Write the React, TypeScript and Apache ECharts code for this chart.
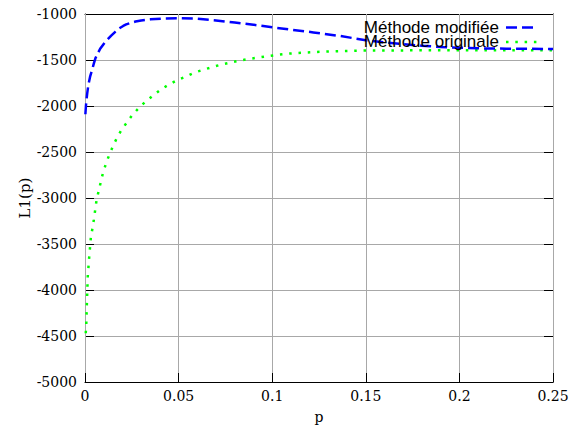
import React, { useEffect, useRef } from "react";
import * as echarts from "echarts";

const xTicks = [0, 0.05, 0.1, 0.15, 0.2, 0.25];
const yTicks = [-5000, -4500, -4000, -3500, -3000, -2500, -2000, -1500, -1000];

const seriesNames = ["Méthode modifiée", "Méthode originale"];

const pModified = [
  0.0002, 0.0005, 0.0008, 0.0012, 0.0016, 0.002, 0.0028, 0.0038, 0.0047, 0.0056,
  0.007, 0.0083, 0.01, 0.0118, 0.014, 0.0163, 0.018, 0.0204, 0.022, 0.024,
  0.027, 0.03, 0.035, 0.042, 0.05, 0.06, 0.07, 0.08, 0.09, 0.1,
  0.11, 0.122, 0.136, 0.15, 0.16, 0.17, 0.18, 0.19, 0.2, 0.21,
  0.225, 0.25,
];
const lModified = [
  -2090, -2000, -1931, -1860, -1800, -1751, -1675, -1606, -1540, -1480,
  -1420, -1372, -1325, -1282, -1235, -1191, -1160, -1130, -1113, -1099,
  -1082, -1070, -1058, -1049, -1046, -1051, -1070, -1093, -1117, -1144,
  -1170, -1200, -1238, -1285, -1310, -1328, -1345, -1358, -1367, -1373,
  -1377, -1380,
];

const pOriginal = [
  0.0004, 0.0007, 0.001, 0.0015, 0.0022, 0.0031, 0.0047, 0.0061, 0.0072, 0.0095,
  0.011, 0.0127, 0.0147, 0.0168, 0.0193, 0.0222, 0.0252, 0.0286, 0.0323, 0.0363,
  0.0402, 0.0444, 0.049, 0.0537, 0.0584, 0.0632, 0.068, 0.073, 0.0778, 0.0828,
  0.0878, 0.0928, 0.0978, 0.1027, 0.1078, 0.113, 0.118, 0.1229, 0.128, 0.133,
  0.138, 0.143, 0.15, 0.175, 0.2, 0.25,
];
const lOriginal = [
  -4470, -4360, -4150, -3845, -3654, -3437, -3239, -3033, -2931, -2736,
  -2639, -2545, -2448, -2357, -2267, -2184, -2101, -2025, -1953, -1888,
  -1826, -1772, -1722, -1682, -1637, -1606, -1577, -1549, -1527, -1506,
  -1487, -1473, -1458, -1444, -1432, -1425, -1419, -1413, -1409, -1406,
  -1403, -1400, -1397, -1395, -1394, -1393,
];

const SERIF = "'DejaVu Serif', serif";
const SANS = "'Liberation Sans', Arial, sans-serif";

export default function App() {
  const ref = useRef<HTMLDivElement>(null);
  useEffect(() => {
    if (!ref.current) return;
    const chart = echarts.init(ref.current, null, { renderer: "svg" });
    const gridColor = "#a8a8a8";
    const baseX = {
      type: "value",
      min: xTicks[0],
      max: xTicks[xTicks.length - 1],
      interval: 0.05,
      axisLine: { show: true, onZero: false, lineStyle: { color: "#000", width: 1 } },
      axisTick: { show: true, inside: true, length: 9, lineStyle: { color: "#000" } },
      splitLine: { show: false },
    };
    const baseY = {
      type: "value",
      min: yTicks[0],
      max: yTicks[yTicks.length - 1],
      interval: 500,
      axisLine: { show: true, onZero: false, lineStyle: { color: "#000", width: 1 } },
      axisTick: { show: true, inside: true, length: 9, lineStyle: { color: "#000" } },
      splitLine: { show: false },
    };
    chart.setOption({
      animation: false,
      backgroundColor: "#fff",
      grid: { left: 85, right: 27, top: 14, bottom: 46, containLabel: false },
      xAxis: [
        {
          ...baseX,
          position: "bottom",
          name: "p",
          nameLocation: "middle",
          nameGap: 28,
          nameMoveOverlap: false,
          nameTextStyle: { fontFamily: SERIF, fontSize: 14, color: "#000" },
          axisLabel: {
            margin: 7,
            fontFamily: SERIF,
            fontSize: 14,
            color: "#000",
            formatter: (v: number) => String(v),
          },
          splitLine: { show: true, lineStyle: { color: gridColor, width: 1 } },
          z: 3,
        },
        { ...baseX, position: "top", axisLabel: { show: false } },
      ],
      yAxis: [
        {
          ...baseY,
          position: "left",
          name: "L1(p)",
          nameLocation: "middle",
          nameGap: 53,
          nameRotate: 90,
          nameMoveOverlap: false,
          nameTextStyle: { fontFamily: SERIF, fontSize: 15, color: "#000" },
          axisLabel: {
            margin: 8,
            fontFamily: SERIF,
            fontSize: 14,
            color: "#000",
            formatter: (v: number) => String(v),
          },
          splitLine: { show: true, lineStyle: { color: gridColor, width: 1 } },
        },
        { ...baseY, position: "right", axisLabel: { show: false } },
      ],
      series: [
        {
          name: seriesNames[0],
          type: "line",
          xAxisIndex: 0,
          yAxisIndex: 0,
          data: pModified.map((p, i) => [p, lModified[i]]),
          showSymbol: false,
          smooth: false,
          lineStyle: { color: "#0000ff", width: 2.5, type: [11, 5], cap: "butt" },
          z: 4,
        },
        {
          name: seriesNames[1],
          type: "line",
          xAxisIndex: 0,
          yAxisIndex: 0,
          data: pOriginal.map((p, i) => [p, lOriginal[i]]),
          showSymbol: false,
          smooth: false,
          lineStyle: { color: "#00ff00", width: 2.5, type: [2.5, 6.8], cap: "butt" },
          z: 3,
        },
      ],
      graphic: [
        {
          type: "text",
          right: 81,
          top: 18.5,
          z: 10,
          style: {
            text: seriesNames[0],
            fontFamily: SANS,
            fontSize: 17,
            lineHeight: 14,
            fill: "#000",
          },
        },
        {
          type: "text",
          right: 81,
          top: 32.5,
          z: 10,
          style: {
            text: seriesNames[1],
            fontFamily: SANS,
            fontSize: 17,
            lineHeight: 14,
            fill: "#000",
          },
        },
        {
          type: "line",
          z: 10,
          shape: { x1: 506, y1: 27.5, x2: 538, y2: 27.5 },
          style: { stroke: "#0000ff", lineWidth: 2.5, lineDash: [11, 5] },
        },
        {
          type: "line",
          z: 10,
          shape: { x1: 506, y1: 42, x2: 538, y2: 42 },
          style: { stroke: "#00ff00", lineWidth: 2.5, lineDash: [2.5, 6.8] },
        },
      ],
    });
    return () => chart.dispose();
  }, []);
  return (
    <div
      ref={ref}
      style={{ position: "absolute", left: 0, top: 0, width: 580, height: 429 }}
    />
  );
}
